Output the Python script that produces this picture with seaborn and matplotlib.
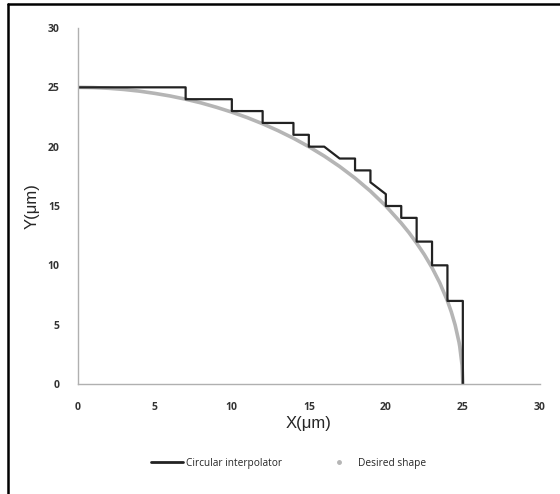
import matplotlib
matplotlib.use("Agg")
import matplotlib.pyplot as plt
import seaborn as sns
import pandas as pd
from matplotlib.lines import Line2D

# Circular interpolator (staircase path)
interp_x = [0, 7, 7, 10, 10, 12, 12, 14, 14, 15, 15, 16, 17, 18, 18, 19, 19, 20, 20, 21, 21, 22, 22, 23, 23, 24, 24, 25, 25]
interp_y = [25, 25, 24, 24, 23, 23, 22, 22, 21, 21, 20, 20, 19, 19, 18, 18, 17, 16, 15, 15, 14, 14, 12, 12, 10, 10, 7, 7, 0]

# Desired shape (quarter circle, radius 25)
shape_x = [0, 1, 2, 3, 4, 5, 6, 7, 8, 9, 10, 11, 12, 13, 14, 15, 16, 17, 18, 19, 20,
           21, 21.5, 22, 22.5, 23, 23.5, 24, 24.25, 24.5, 24.75, 24.8, 24.95, 25]
shape_y = [25, 24.98, 24.92, 24.82, 24.68, 24.49, 24.27, 24.00, 23.69, 23.32, 22.91,
           22.45, 21.93, 21.35, 20.71, 20.00, 19.21, 18.33, 17.35, 16.25, 15.00,
           13.56, 12.76, 11.87, 10.90, 9.80, 8.53, 7.00, 6.08, 4.97, 3.53, 3.16, 1.58, 0]

x_ticks = [0, 5, 10, 15, 20, 25, 30]
y_ticks = [0, 5, 10, 15, 20, 25, 30]

sns.set_style("white")
plt.rcParams['font.family'] = ['DejaVu Sans']

df_i = pd.DataFrame({"x": interp_x, "y": interp_y})
df_s = pd.DataFrame({"x": shape_x, "y": shape_y})

fig = plt.figure(figsize=(5.6, 4.94), dpi=100)
ax = fig.add_axes([0.139, 0.2227, 0.825, 0.7206])

sns.lineplot(data=df_s, x="x", y="y", sort=False, estimator=None, ax=ax,
             color="#b5b5b5", linewidth=2.6, solid_capstyle="round")
sns.lineplot(data=df_i, x="x", y="y", sort=False, estimator=None, ax=ax,
             color="#222222", linewidth=1.6)

ax.set_xlim(0, 30)
ax.set_ylim(0, 30)
ax.set_xticks(x_ticks)
ax.set_yticks(y_ticks)
ax.set_xticklabels([str(t) for t in x_ticks])
ax.set_yticklabels([str(t) for t in y_ticks])
for s in ["top", "right"]:
    ax.spines[s].set_visible(False)
for s in ["left", "bottom"]:
    ax.spines[s].set_color("#b0b0b0")
    ax.spines[s].set_linewidth(1.0)
ax.tick_params(axis="both", direction="out", length=3, width=0.8, color="#b0b0b0",
               labelsize=7.5, labelcolor="#333333", pad=10)
for lab in ax.get_xticklabels() + ax.get_yticklabels():
    lab.set_fontweight("bold")
    lab.set_family("Open Sans")

ax.set_xlabel("X(\u03bcm)", fontsize=12, family="Liberation Sans", labelpad=2)
ax.set_ylabel("Y(\u03bcm)", fontsize=12, family="Liberation Sans", labelpad=6)

handles = [Line2D([0], [0], color="#222222", lw=2.0),
           Line2D([0], [0], color="#b5b5b5", lw=0, marker="o", markersize=2.5)]
fig.legend(handles, ["Circular interpolator", "Desired shape"], loc="center",
           bbox_to_anchor=(0.515, 0.062), ncol=2, frameon=False,
           prop={"family": "Open Sans", "size": 7.3}, handlelength=3.2,
           columnspacing=4.0, handletextpad=0.3)

# figure border (top and left only)
fig.add_artist(Line2D([8/560, 8/560], [0, 1 - 4/494], color="black", lw=1.8,
                      transform=fig.transFigure))
fig.add_artist(Line2D([8/560, 1], [1 - 4/494, 1 - 4/494], color="black", lw=1.8,
                      transform=fig.transFigure))

fig.savefig("out.png", dpi=100)
